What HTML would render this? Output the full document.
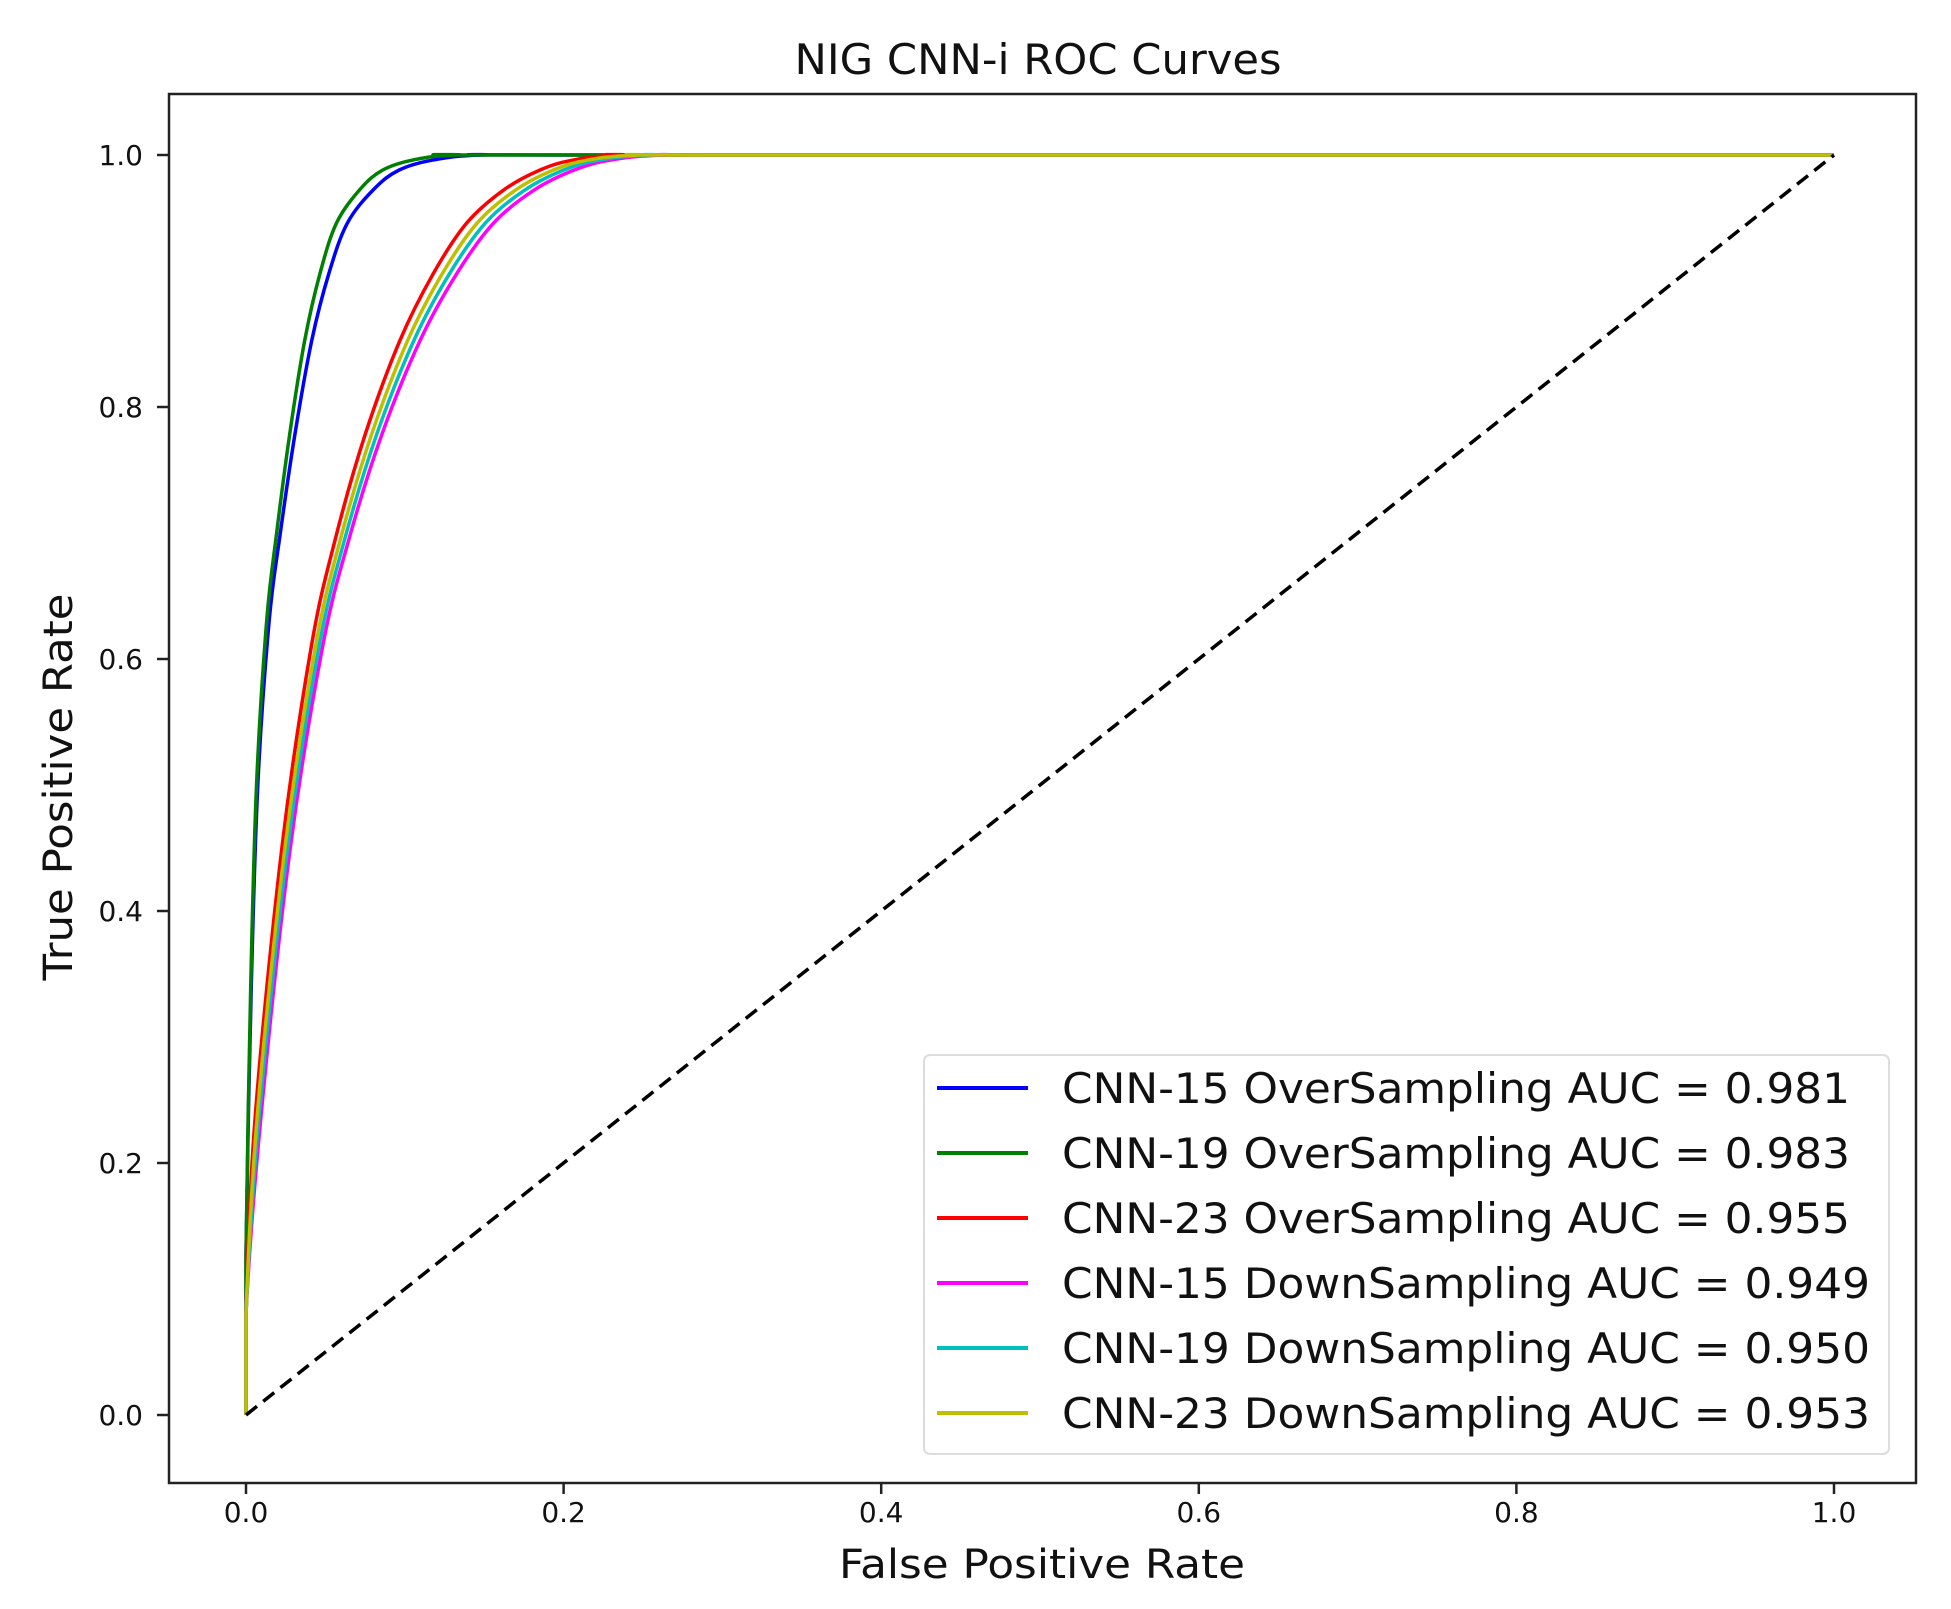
<!DOCTYPE html>
<html><head><meta charset="utf-8"><style>
html,body{margin:0;padding:0;background:#fff;}
svg{display:block;}
text{font-family:"DejaVu Sans","Liberation Sans",sans-serif;fill:#111;}
</style></head><body>
<svg id="s" width="1951" height="1609" viewBox="0 0 1951 1609" xmlns="http://www.w3.org/2000/svg">
<rect width="1951" height="1609" fill="#fff"/>
<text x="1038" y="74" font-size="42" text-anchor="middle" textLength="487" lengthAdjust="spacingAndGlyphs">NIG CNN-i ROC Curves</text>
<g id="curves"></g>
<line x1="246" y1="1415" x2="1834" y2="155" stroke="#000" stroke-width="3.5" stroke-dasharray="14,8"/>
<rect x="169" y="94" width="1747" height="1389" fill="none" stroke="#222" stroke-width="2.5"/>
<g stroke="#222" stroke-width="2.5" id="ticks"></g>
<g font-size="28" id="labels"></g>
<text x="1042" y="1578" font-size="40" text-anchor="middle" textLength="406" lengthAdjust="spacingAndGlyphs">False Positive Rate</text>
<text transform="translate(72,787) rotate(-90)" font-size="40" text-anchor="middle" textLength="387" lengthAdjust="spacingAndGlyphs">True Positive Rate</text>
<rect x="924" y="1055" width="965" height="399" rx="6" fill="#fff" fill-opacity="0.85" stroke="#ddd" stroke-width="2"/>
<g id="legend"></g>
</svg>
<script>
var X0=246,X1=1834,Y0=1415,Y1=155;
function px(x){return X0+x*(X1-X0);} function py(y){return Y0-y*(Y0-Y1);}
var green=[[0,0],[0,0.128],[0.003,0.342],[0.0067,0.502],[0.013,0.63],[0.0193,0.7],[0.0277,0.78],[0.037,0.853],[0.0466,0.906],[0.057,0.946],[0.072,0.973],[0.086,0.988],[0.105,0.996],[0.133,1],[0.2,1],[1,1]];
var red=[[0,0],[0,0.08],[0.0057,0.235],[0.0225,0.449],[0.041,0.609],[0.056,0.694],[0.075,0.778],[0.097,0.853],[0.118,0.906],[0.139,0.946],[0.162,0.972],[0.185,0.988],[0.206,0.996],[0.237,1],[0.3,1],[1,1]];
function sc(p,k,b){return p.map(function(q){return [q[0]===1?1:(q[0]===0?0:Math.min(q[0]*k+b,0.999)),q[1]];});}
function path(p){
 var pts=p.map(function(q){return [px(q[0]),py(q[1])];});
 var d="M"+pts[0][0]+","+pts[0][1];
 for(var i=0;i<pts.length-1;i++){
  var p0=pts[Math.max(i-1,0)],p1=pts[i],p2=pts[i+1],p3=pts[Math.min(i+2,pts.length-1)];
  if(i===0||i>=pts.length-2){d+=" L"+p2[0]+","+p2[1];continue;}
  var c1=[p1[0]+(p2[0]-p0[0])/6,p1[1]+(p2[1]-p0[1])/6],c2=[p2[0]-(p3[0]-p1[0])/6,p2[1]-(p3[1]-p1[1])/6];
  d+=" C"+c1+" "+c2+" "+p2;
 }
 return d;
}
var series=[["#0000ff",sc(green,1.12,0)],["#008000",green],["#ff0000",red],["#ff00ff",sc(red,1.1,0.003)],["#00bfbf",sc(red,1.07,0.002)],["#bfbf00",sc(red,1.04,0.001)]];
var g=document.getElementById("curves"),h="";
series.forEach(function(s){h+='<path d="'+path(s[1])+'" fill="none" stroke="'+s[0]+'" stroke-width="3.5" stroke-linejoin="round"/>';});
g.innerHTML=h;
var t="",l="";
for(var i=0;i<=5;i++){var v=i*0.2,x=px(v),y=py(v);
 t+='<line x1="'+x+'" y1="1483" x2="'+x+'" y2="1494"/><line x1="157" y1="'+y+'" x2="169" y2="'+y+'"/>';
 l+='<text x="'+x+'" y="1522" text-anchor="middle">'+v.toFixed(1)+'</text><text x="143" y="'+(y+10)+'" text-anchor="end">'+v.toFixed(1)+'</text>';}
document.getElementById("ticks").innerHTML=t;document.getElementById("labels").innerHTML=l;
var names=["CNN-15 OverSampling AUC = 0.981","CNN-19 OverSampling AUC = 0.983","CNN-23 OverSampling AUC = 0.955","CNN-15 DownSampling AUC = 0.949","CNN-19 DownSampling AUC = 0.950","CNN-23 DownSampling AUC = 0.953"];
var lens=[788,788,788,808,808,808];
var lg="";
for(var i=0;i<6;i++){var y=1088+i*65;
 lg+='<line x1="937" y1="'+y+'" x2="1028" y2="'+y+'" stroke="'+series[i][0]+'" stroke-width="4"/>';
 lg+='<text x="1062" y="'+(y+15)+'" font-size="42" textLength="'+lens[i]+'" lengthAdjust="spacingAndGlyphs">'+names[i]+'</text>';}
document.getElementById("legend").innerHTML=lg;
</script>
</body></html>
